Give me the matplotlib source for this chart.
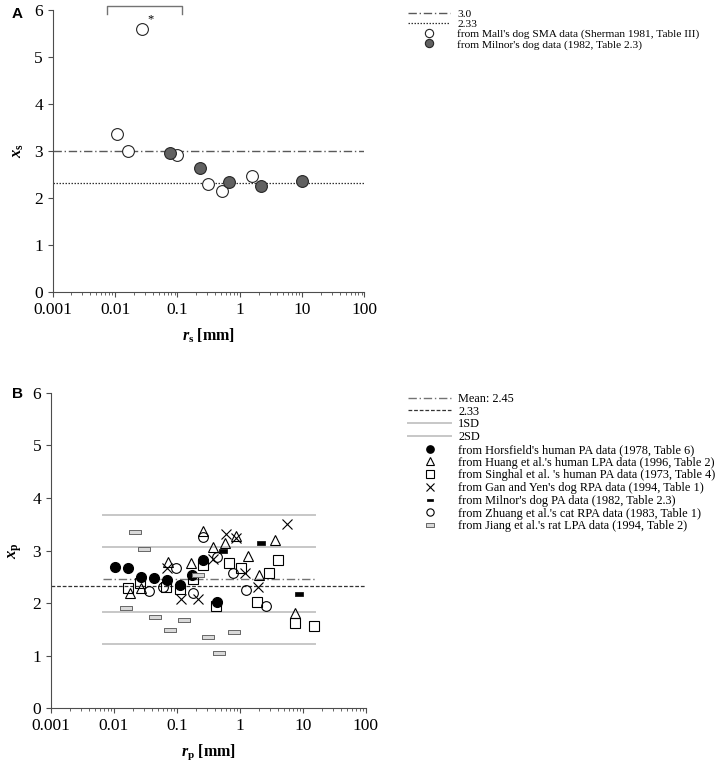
import matplotlib
matplotlib.use('Agg')
import matplotlib.pyplot as plt
from matplotlib.ticker import FixedLocator, FixedFormatter, LogLocator, NullFormatter

# Fonts
plt.rcParams['font.family'] = 'Liberation Serif'
plt.rcParams['mathtext.fontset'] = 'custom'
plt.rcParams['mathtext.it'] = 'Liberation Serif:italic:bold'
plt.rcParams['mathtext.rm'] = 'Liberation Serif:bold'

# ---- Panel A data ----
mall_r = [0.0268, 0.0109, 0.0164, 0.100, 0.31, 0.52, 1.6]
mall_x = [5.59, 3.37, 3.01, 2.91, 2.29, 2.15, 2.47]
milnor_a_r = [0.077, 0.23, 0.68, 2.17, 10.1]
milnor_a_x = [2.96, 2.65, 2.35, 2.26, 2.37]
ref_a_high = 3.0
ref_a_low = 2.33
bracket_r = [0.0075, 0.117]
bracket_y = [5.92, 6.09]
star_r = 0.037
star_y = 5.8

# ---- Panel B data ----
horsfield_r = [0.0104, 0.0169, 0.0272, 0.0428, 0.0689, 0.112, 0.176, 0.264, 0.435]
horsfield_x = [2.68, 2.67, 2.50, 2.48, 2.43, 2.34, 2.53, 2.81, 2.03]
huang_r = [0.018, 0.0272, 0.073, 0.168, 0.257, 0.38, 0.575, 0.871, 1.37, 2.04, 3.67, 7.53]
huang_x = [2.20, 2.29, 2.79, 2.77, 3.37, 3.07, 3.15, 3.28, 2.90, 2.53, 3.20, 1.81]
singhal_r = [0.0169, 0.026, 0.067, 0.112, 0.178, 0.264, 0.419, 0.673, 1.04, 1.85, 2.94, 4.04, 7.53, 15.1]
singhal_x = [2.29, 2.39, 2.31, 2.26, 2.46, 2.72, 1.95, 2.76, 2.67, 2.03, 2.58, 2.82, 1.62, 1.57]
gan_r = [0.0706, 0.115, 0.214, 0.38, 0.596, 0.871, 1.22, 1.95, 5.56]
gan_x = [2.66, 2.07, 2.07, 2.83, 3.31, 3.24, 2.58, 2.30, 3.50]
milnor_b_r = [0.54, 2.15, 8.73]
milnor_b_x = [3.00, 3.15, 2.17]
zhuang_r = [0.0366, 0.0594, 0.0968, 0.178, 0.264, 0.44, 0.77, 1.26, 2.58]
zhuang_x = [2.23, 2.30, 2.66, 2.20, 3.26, 2.88, 2.57, 2.25, 1.95]
jiang_r = [0.0156, 0.0219, 0.0301, 0.045, 0.0778, 0.1315, 0.219, 0.308, 0.473, 0.818]
jiang_x = [1.90, 3.36, 3.02, 1.74, 1.48, 1.67, 2.53, 1.36, 1.05, 1.46]
mean_b = 2.45
sd_b = 0.61
ref_b = 2.33
sd_line_r = [0.0066, 15.5]

# Axis ticks
x_ticks = [0.001, 0.01, 0.1, 1, 10, 100]
x_tick_labels = ['0.001', '0.01', '0.1', '1', '10', '100']
y_ticks = [0, 1, 2, 3, 4, 5, 6]

# Rectangle markers for the "dash" series
rect_marker = [(-1, -0.4), (1, -0.4), (1, 0.4), (-1, 0.4), (-1, -0.4)]

spine_col = '0.3'


def style_axis(ax):
    ax.set_xscale('log')
    ax.set_xlim(0.001, 100)
    ax.set_ylim(0, 6)
    ax.spines['top'].set_visible(False)
    ax.spines['right'].set_visible(False)
    for s in ['left', 'bottom']:
        ax.spines[s].set_color(spine_col)
        ax.spines[s].set_linewidth(0.8)
    ax.xaxis.set_major_locator(FixedLocator(x_ticks))
    ax.xaxis.set_major_formatter(FixedFormatter(x_tick_labels))
    ax.xaxis.set_minor_locator(LogLocator(base=10, subs=range(2, 10)))
    ax.xaxis.set_minor_formatter(NullFormatter())
    ax.yaxis.set_major_locator(FixedLocator(y_ticks))
    ax.tick_params(axis='both', which='major', direction='out', length=3.5,
                   width=0.8, color=spine_col, labelsize=12.5)
    ax.tick_params(axis='x', which='minor', direction='out', length=2,
                   width=0.6, color=spine_col)


fig = plt.figure(figsize=(7.2, 7.63), dpi=100)

# ---------------- Panel A ----------------
axA = fig.add_axes([0.0732, 0.617, 0.433, 0.370])
style_axis(axA)
hA1 = axA.axhline(ref_a_high, color='0.35', lw=1.0, ls=(0, (6, 2, 1, 2)), label='3.0')
hA2 = axA.axhline(ref_a_low, color='0.2', lw=0.9, ls=(0, (1.2, 1.2)), label='2.33')
hA3, = axA.plot(mall_r, mall_x, 'o', ms=8.5, mfc='white', mec='0.15', mew=0.8,
                label="from Mall's dog SMA data (Sherman 1981, Table III)")
hA4, = axA.plot(milnor_a_r, milnor_a_x, 'o', ms=8.5, mfc='0.38', mec='0.15', mew=0.8,
                label="from Milnor's dog data (1982, Table 2.3)")
axA.plot([bracket_r[0], bracket_r[0], bracket_r[1], bracket_r[1]],
         [bracket_y[0], bracket_y[1], bracket_y[1], bracket_y[0]],
         color='0.45', lw=1.0, clip_on=False)
axA.text(star_r, star_y, '*', fontsize=9, ha='center', va='center')
axA.set_ylabel('$x_\\mathrm{s}$', fontsize=12, labelpad=6)
axA.set_xlabel('$r_\\mathrm{s}$ [mm]', fontsize=11.5, fontweight='bold', labelpad=6)
fig.text(0.016, 0.982, 'A', family='Liberation Sans', fontweight='bold', fontsize=11,
         va='center', ha='left')

fig.legend(handles=[hA1, hA2, hA3, hA4], loc='upper left', bbox_to_anchor=(0.567, 0.988),
           frameon=False, fontsize=8.2, handlelength=3.7, handletextpad=0.6,
           labelspacing=0.0, borderpad=0, borderaxespad=0, markerscale=0.7)

# ---------------- Panel B ----------------
axB = fig.add_axes([0.0708, 0.0717, 0.437, 0.4136])
style_axis(axB)
hB1, = axB.plot(sd_line_r, [mean_b, mean_b], color='0.45', lw=1.0,
                ls=(0, (6, 2, 1, 2)), label='Mean: 2.45')
hB2 = axB.axhline(ref_b, color='0.2', lw=0.9, ls=(0, (3, 1.5)), label='2.33')
hB3, = axB.plot(sd_line_r, [mean_b + sd_b, mean_b + sd_b], color='0.78', lw=1.4, label='1SD')
axB.plot(sd_line_r, [mean_b - sd_b, mean_b - sd_b], color='0.78', lw=1.4)
hB4, = axB.plot(sd_line_r, [mean_b + 2 * sd_b, mean_b + 2 * sd_b], color='0.78', lw=1.4, label='2SD')
axB.plot(sd_line_r, [mean_b - 2 * sd_b, mean_b - 2 * sd_b], color='0.78', lw=1.4)

ms_b = 7
hB5, = axB.plot(horsfield_r, horsfield_x, 'o', ms=ms_b, mfc='black', mec='black',
                label="from Horsfield's human PA data (1978, Table 6)")
hB6, = axB.plot(huang_r, huang_x, '^', ms=ms_b + 0.5, mfc='none', mec='black', mew=0.8,
                label="from Huang et al.'s human LPA data (1996, Table 2)")
hB7, = axB.plot(singhal_r, singhal_x, 's', ms=ms_b, mfc='none', mec='black', mew=0.8,
                label="from Singhal et al. 's human PA data (1973, Table 4)")
hB8, = axB.plot(gan_r, gan_x, 'x', ms=ms_b, mec='black', mew=0.8,
                label="from Gan and Yen's dog RPA data (1994, Table 1)")
hB9, = axB.plot(milnor_b_r, milnor_b_x, marker=rect_marker, ls='none', ms=6,
                mfc='black', mec='black', mew=0.5,
                label="from Milnor's dog PA data (1982, Table 2.3)")
hB10, = axB.plot(zhuang_r, zhuang_x, 'o', ms=ms_b, mfc='none', mec='black', mew=0.8,
                 label="from Zhuang et al.'s cat RPA data (1983, Table 1)")
hB11, = axB.plot(jiang_r, jiang_x, marker=rect_marker, ls='none', ms=8,
                 mfc='0.85', mec='0.4', mew=0.7,
                 label="from Jiang et al.'s rat LPA data (1994, Table 2)")
axB.set_ylabel('$x_\\mathrm{p}$', fontsize=12, labelpad=6)
axB.set_xlabel('$r_\\mathrm{p}$ [mm]', fontsize=11.5, fontweight='bold', labelpad=6)
fig.text(0.016, 0.484, 'B', family='Liberation Sans', fontweight='bold', fontsize=11,
         va='center', ha='left')

fig.legend(handles=[hB1, hB2, hB3, hB4, hB5, hB6, hB7, hB8, hB9, hB10, hB11],
           loc='upper left', bbox_to_anchor=(0.567, 0.485),
           frameon=False, fontsize=8.8, handlelength=3.5, handletextpad=0.6,
           labelspacing=0.06, borderpad=0, borderaxespad=0, markerscale=0.75)

plt.savefig('out.png', dpi=100)
plt.close()
